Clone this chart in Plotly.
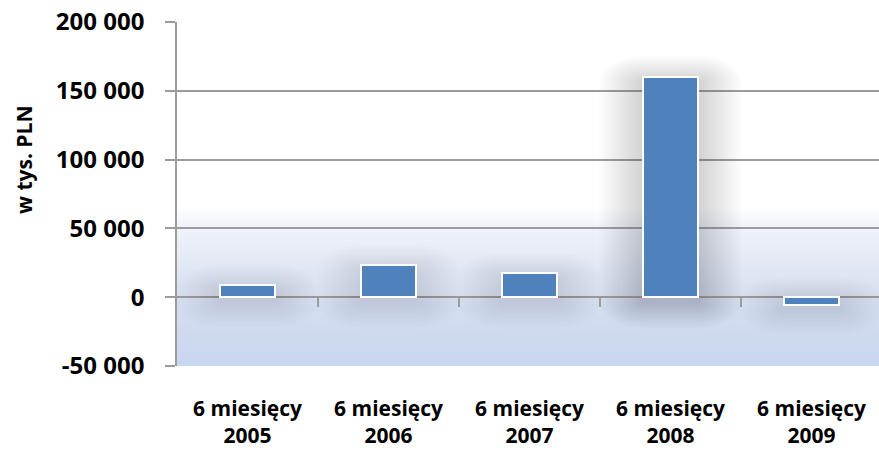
import math
import plotly.graph_objects as go

categories = ["6 miesięcy<br>2005", "6 miesięcy<br>2006", "6 miesięcy<br>2007",
              "6 miesięcy<br>2008", "6 miesięcy<br>2009"]
values = [9200, 23200, 17700, 160000, -5500]
y_tickvals = [-50000, 0, 50000, 100000, 150000, 200000]
y_ticktext = ["-50 000", "0", "50 000", "100 000", "150 000", "200 000"]
y_title = "w tys. PLN"

FONT = "Open Sans"
GRID = "#9c9c9c"
BAR_W = 0.39
PX_PER_CAT = 141.0
UNITS_PER_PX = 50000 / 68.8
PLOT_W = 702
X_RANGE = [-0.5, -0.5 + PLOT_W / PX_PER_CAT]
xpos = list(range(len(categories)))

fig = go.Figure()

# soft glow behind bars: rounded rectangles (bar grown by a pad)
def glow_shape(i, v, pad_px, vfac, off_px):
    hw = BAR_W / 2
    x0, x1 = i - hw, i + hw
    y0 = min(v, 0) - off_px * UNITS_PER_PX
    y1 = max(v, 0) - off_px * UNITS_PER_PX
    rx = pad_px / PX_PER_CAT
    ry = pad_px * vfac * UNITS_PER_PX
    xs, ys = [], []
    corners = [(x1, y1, 0), (x0, y1, 90), (x0, y0, 180), (x1, y0, 270)]
    for cx, cy, a0 in corners:
        for s in range(7):
            a = math.radians(a0 + 15 * s)
            xs.append(cx + rx * math.cos(a))
            ys.append(cy + ry * math.sin(a))
    xs.append(xs[0]); ys.append(ys[0])
    return xs, ys

n_layers = 22
for i, v in zip(xpos, values):
    hpx = abs(v) / UNITS_PER_PX
    f = max(0.35, min(1.0, (hpx + 20) / 80))
    for k in range(n_layers, 0, -1):
        xs, ys = glow_shape(i, v, 2.0 * k, 0.6, 5)
        fig.add_trace(go.Scatter(x=xs, y=ys, mode="lines", fill="toself",
                                 fillcolor="rgba(70,70,80,%.4f)" % (0.011 * f),
                                 line=dict(width=0), hoverinfo="skip", showlegend=False))

# bars on the overlaying twin axis so they are drawn above the glow
fig.add_trace(go.Bar(
    x=xpos, y=values, width=BAR_W, xaxis="x2", yaxis="y",
    marker=dict(color="#4F81BD", line=dict(color="white", width=2)),
    showlegend=False))

# background gradient (style only)
stops = [(65000, (255, 255, 255)), (50000, (240, 243, 250)),
         (0, (215, 223, 240)), (-50000, (201, 214, 239))]
shapes = []
n_bands = 70
y_hi, y_lo = stops[0][0], stops[-1][0]
band_h = (y_hi - y_lo) / n_bands
for i in range(n_bands):
    a = y_hi - band_h * i
    b = a - band_h
    m = (a + b) / 2
    for j in range(len(stops) - 1):
        if stops[j][0] >= m >= stops[j + 1][0]:
            t = (stops[j][0] - m) / (stops[j][0] - stops[j + 1][0])
            c = tuple(round(stops[j][1][q] + (stops[j + 1][1][q] - stops[j][1][q]) * t) for q in range(3))
            break
    top = a + (band_h * 0.6 if i > 0 else 0)
    shapes.append(dict(type="rect", xref="paper", yref="y", x0=0, x1=1, y0=b, y1=top,
                       fillcolor="rgb(%d,%d,%d)" % c, line=dict(width=0), layer="below"))

fig.update_layout(
    width=879, height=462,
    margin=dict(l=177, r=0, t=22, b=96),
    paper_bgcolor="white", plot_bgcolor="white",
    barmode="overlay", bargap=0,
    shapes=shapes,
    font=dict(family=FONT, color="black"),
    xaxis=dict(range=X_RANGE, automargin=False, tickvals=xpos, ticktext=categories,
               showgrid=False, zeroline=False, showline=False, ticks="",
               tickfont=dict(family=FONT, size=21, color="black", weight="bold"),
               ticklabelstandoff=28),
    xaxis2=dict(overlaying="x", anchor="free", position=0.2, automargin=False,
                range=X_RANGE, tickvals=[0.5, 1.5, 2.5, 3.5],
                ticks="outside", ticklen=9, tickwidth=1.5, tickcolor=GRID,
                showticklabels=False, showgrid=False, zeroline=False, showline=False),
    yaxis=dict(range=[-50000, 200000], tickvals=y_tickvals, ticktext=y_ticktext,
               automargin=False,
               showgrid=True, gridcolor=GRID, gridwidth=1.5,
               zeroline=True, zerolinecolor=GRID, zerolinewidth=1.5,
               showline=True, linecolor=GRID, linewidth=1.5,
               ticks="outside", ticklen=10, tickwidth=1.5, tickcolor=GRID,
               tickfont=dict(family=FONT, size=24, color="black", weight="bold"),
               ticklabelstandoff=16),
    annotations=[dict(text=y_title, xref="paper", yref="paper", x=(24 - 177) / PLOT_W,
                      y=(366 - 160) / 344, xanchor="center", yanchor="middle",
                      textangle=-90, showarrow=False,
                      font=dict(family=FONT, size=21, color="black", weight="bold"))],
)

fig.write_html("out.html", config={"displayModeBar": False},
               post_script="document.body.style.margin='0';document.body.style.padding='0';")
